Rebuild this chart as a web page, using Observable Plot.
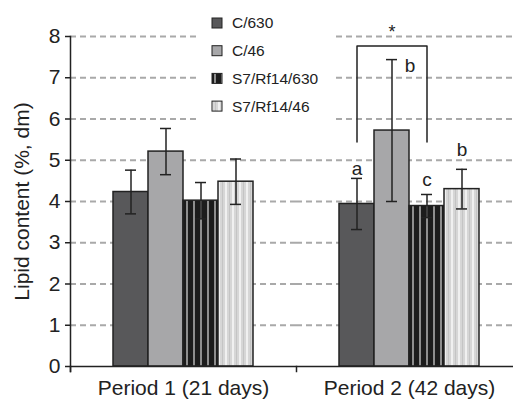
<!DOCTYPE html>
<html><head><meta charset="utf-8">
<script src="https://cdn.jsdelivr.net/npm/d3@7"></script>
<script src="https://cdn.jsdelivr.net/npm/@observablehq/plot@0.6"></script>
<style>
html,body{margin:0;padding:0;background:#fff;overflow:hidden}
#chart{position:relative;width:513px;height:399px}
</style></head><body><div id="chart"></div>
<script>
const periods = ["Period 1 (21 days)", "Period 2 (42 days)"];
const series = ["C/630", "C/46", "S7/Rf14/630", "S7/Rf14/46"];
const period1Means = [4.23, 5.21, 4.02, 4.48];
const period1Errors = [0.53, 0.56, 0.44, 0.55];
const period2Means = [3.94, 5.72, 3.89, 4.30];
const period2Errors = [0.62, 1.72, 0.28, 0.48];
const yTicks = [0, 1, 2, 3, 4, 5, 6, 7, 8];
const yLabel = "Lipid content (%, dm)";
const letterLabels = ["a", "b", "c", "b"];
const letterY = [4.80, 7.28, 4.52, 5.24];
const letterSide = ["above", "right", "above", "above"];
const bracketSeries = ["C/630", "C/630", "S7/Rf14/630", "S7/Rf14/630"];
const bracketY = [5.44, 7.77, 7.77, 5.44];
const starLabel = "*";
const starSeries = "C/46";
const starY = 8.1;
const fills = ["#58585a", "#a7a7a9", "url(#stripeDark)", "url(#stripeLight)"];

const means = [period1Means, period2Means];
const errors = [period1Errors, period2Errors];
const rows = periods.flatMap((p, i) => series.map((s, j) => ({period: p, series: s, mean: means[i][j], err: errors[i][j]})));
const letters = letterLabels.map((l, j) => ({period: periods[1], series: series[j], label: l, y: letterY[j], side: letterSide[j]}));
const bracket = bracketSeries.map((s, k) => ({period: periods[1], series: s, y: bracketY[k]}));
const star = [{period: periods[1], series: starSeries, label: starLabel, y: starY}];

const ink = "#222";
const font = "'Liberation Sans', Arial, sans-serif";
const plot = Plot.plot({
  width: 513, height: 399,
  marginTop: 36, marginBottom: 33, marginLeft: 70, marginRight: -9,
  style: {fontFamily: font, fontSize: "21px", color: ink, background: "#fff"},
  fx: {domain: periods, padding: 0},
  x: {domain: series, paddingInner: 0, paddingOuter: 1.2, axis: null},
  y: {domain: [0, 8]},
  color: {type: "ordinal", domain: series, range: fills},
  marks: [
    Plot.gridY(yTicks.slice(1), {stroke: "#a9a9a9", strokeOpacity: 1, strokeWidth: 2, strokeDasharray: "6,4"}),
    Plot.barY(rows, {fx: "period", x: "series", y: "mean", fill: "series", stroke: ink, strokeWidth: 1.5}),
    Plot.ruleX(rows, {fx: "period", x: "series", y1: d => d.mean - d.err, y2: d => d.mean + d.err, stroke: ink, strokeWidth: 1.5}),
    Plot.tickY(rows, {fx: "period", x: "series", y: d => d.mean + d.err, insetLeft: 12, insetRight: 12, stroke: ink, strokeWidth: 1.5}),
    Plot.tickY(rows, {fx: "period", x: "series", y: d => d.mean - d.err, insetLeft: 12, insetRight: 12, stroke: ink, strokeWidth: 1.5}),
    Plot.line(bracket, {fx: "period", x: "series", y: "y", stroke: ink, strokeWidth: 1.5}),
    Plot.text(letters.filter(d => d.side === "above"), {fx: "period", x: "series", y: "y", text: "label", fontSize: 19, fill: ink}),
    Plot.text(letters.filter(d => d.side === "right"), {fx: "period", x: "series", y: "y", text: "label", fontSize: 19, dx: 18, fill: ink}),
    Plot.text(star, {fx: "period", x: "series", y: "y", text: "label", fontSize: 18, fill: ink}),
    Plot.ruleY([0], {stroke: ink, strokeWidth: 1.5}),
    Plot.frame({anchor: "left", insetTop: 330, insetBottom: -5, stroke: ink, strokeWidth: 1.5}),
    Plot.frame({anchor: "left", facetAnchor: "left", insetBottom: -5, stroke: ink, strokeWidth: 1.5}),
    Plot.axisY({ticks: yTicks, tickSize: 5, tickPadding: 5, label: null, stroke: ink, strokeWidth: 1.5, fill: ink}),
    Plot.text([yLabel], {frameAnchor: "left", facetAnchor: "left", textAnchor: "middle", rotate: -90, dx: -48, fill: ink, fontSize: 21}),
    Plot.axisFx({anchor: "bottom", tickSize: 0, tickPadding: 14, label: null, fill: ink})
  ]
});
document.getElementById("chart").appendChild(plot);

const svg = d3.select(plot);
const defs = svg.insert("defs", ":first-child");
const pd = defs.append("pattern").attr("id", "stripeDark").attr("patternUnits", "userSpaceOnUse").attr("width", 7).attr("height", 8);
pd.append("rect").attr("width", 7).attr("height", 8).attr("fill", "#1c1c1c");
pd.append("rect").attr("x", 4).attr("width", 2).attr("height", 8).attr("fill", "#8e8e8e");
const pl = defs.append("pattern").attr("id", "stripeLight").attr("patternUnits", "userSpaceOnUse").attr("width", 7).attr("height", 8);
pl.append("rect").attr("width", 7).attr("height", 8).attr("fill", "#d6d6d6");
pl.append("rect").attr("x", 1).attr("width", 2).attr("height", 8).attr("fill", "#f0f0f0");
pl.append("rect").attr("x", 5).attr("width", 1).attr("height", 8).attr("fill", "#c4c4c4");

// legend
const lg = svg.append("g").attr("font-family", font).attr("font-size", 15.5).attr("text-anchor", "start");
lg.append("rect").attr("x", 197).attr("y", 4).attr("width", 136).attr("height", 118).attr("fill", "#fff");
series.forEach((s, i) => {
  const cy = 23 + i * 27.7;
  lg.append("rect").attr("x", 212).attr("y", cy - 5).attr("width", 10).attr("height", 10)
    .attr("fill", fills[i]).attr("stroke", ink).attr("stroke-width", 1);
  lg.append("text").attr("x", 232).attr("y", cy).attr("dy", "0.35em").attr("text-anchor", "start").attr("fill", ink).text(s);
});
</script></body></html>
